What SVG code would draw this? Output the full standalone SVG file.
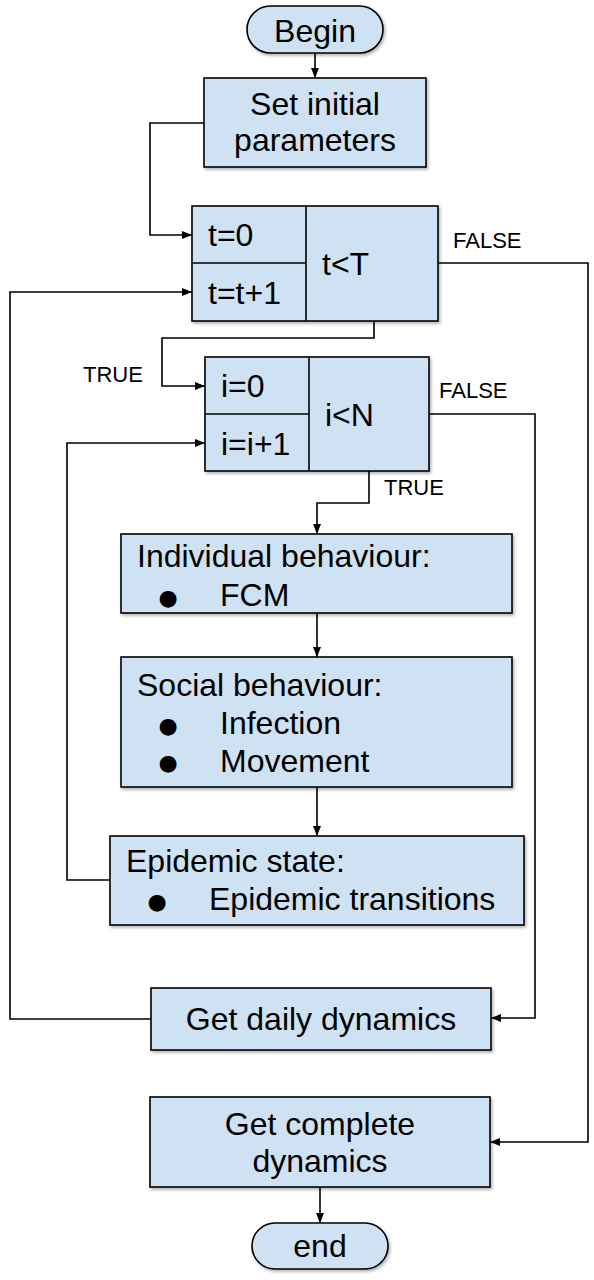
<svg xmlns="http://www.w3.org/2000/svg" width="594" height="1280" viewBox="0 0 594 1280">
<style>
.box{fill:#cfe2f3;stroke:#000;stroke-width:1.6;filter:url(#sh)}
.div{stroke:#000;stroke-width:1.6;fill:none}
.t{font-family:"Liberation Sans",Arial,sans-serif;font-size:32px;fill:#000}
.c{text-anchor:middle}
.lbl{font-family:"Liberation Sans",Arial,sans-serif;font-size:22px;fill:#000}
.bul{font-family:"DejaVu Sans",sans-serif;font-size:22px;fill:#000;text-anchor:middle}
.ln{fill:none;stroke:#000;stroke-width:1.6}
.arr{marker-end:url(#ah)}
</style>
<defs>
<filter id="sh" x="-10%" y="-10%" width="130%" height="140%">
<feDropShadow dx="1.5" dy="2" stdDeviation="1.5" flood-color="#000" flood-opacity="0.3"/>
</filter>
<marker id="ah" markerUnits="userSpaceOnUse" markerWidth="11" markerHeight="9" refX="10" refY="4" orient="auto">
<path d="M0,0 L10,4 L0,8 z" fill="#000"/>
</marker>
</defs>
<rect width="594" height="1280" fill="#fff"/>
<g id="connectors">
<path class="ln arr" d="M315,53 V78"/>
<path class="ln arr" d="M204,123 H150 V235 H192"/>
<path class="ln arr" d="M438,263 H588 V1142 H490"/>
<path class="ln arr" d="M151,1019 H10 V292 H192"/>
<path class="ln arr" d="M374,321 V338 H162 V386 H205"/>
<path class="ln arr" d="M429,414 H535 V1018 H491"/>
<path class="ln arr" d="M369,471 V503 H317 V534"/>
<path class="ln arr" d="M317,613 V657"/>
<path class="ln arr" d="M317,787 V836"/>
<path class="ln arr" d="M110,880 H67 V443 H205"/>
<path class="ln arr" d="M320,1187 V1223"/>
<text class="lbl" x="453" y="248">FALSE</text>
<text class="lbl" x="83" y="382">TRUE</text>
<text class="lbl" x="439" y="398">FALSE</text>
<text class="lbl" x="384" y="495">TRUE</text>
</g>
<g id="begin">
<rect class="box" x="247" y="6" width="136" height="47" rx="23.5"/>
<text class="t c" x="315" y="42">Begin</text>
</g>
<g id="set-params">
<rect class="box" x="204" y="78" width="222" height="89"/>
<text class="t c" x="315" y="115">Set initial</text>
<text class="t c" x="315" y="151">parameters</text>
</g>
<g id="t-loop">
<rect class="box" x="192" y="206" width="246" height="115"/>
<path class="div" d="M306,206 V321 M192,263 H306"/>
<text class="t" x="208" y="246">t=0</text>
<text class="t" x="208" y="304">t=t+1</text>
<text class="t" x="322" y="275">t&lt;T</text>
</g>
<g id="i-loop">
<rect class="box" x="205" y="357" width="224" height="114"/>
<path class="div" d="M309,357 V471 M205,414 H309"/>
<text class="t" x="221" y="397">i=0</text>
<text class="t" x="221" y="455">i=i+1</text>
<text class="t" x="325" y="426">i&lt;N</text>
</g>
<g id="individual">
<rect class="box" x="121" y="534" width="391" height="79"/>
<text class="t" x="137" y="567">Individual behaviour:</text>
<text class="bul" x="168" y="605">●</text>
<text class="t" x="220" y="606">FCM</text>
</g>
<g id="social">
<rect class="box" x="121" y="657" width="391" height="130"/>
<text class="t" x="137" y="696">Social behaviour:</text>
<text class="bul" x="168" y="733">●</text>
<text class="t" x="220" y="734">Infection</text>
<text class="bul" x="168" y="770">●</text>
<text class="t" x="220" y="772">Movement</text>
</g>
<g id="epidemic">
<rect class="box" x="110" y="836" width="414" height="89"/>
<text class="t" x="126" y="872">Epidemic state:</text>
<text class="bul" x="157" y="909">●</text>
<text class="t" x="209" y="910">Epidemic transitions</text>
</g>
<g id="daily">
<rect class="box" x="151" y="988" width="340" height="62"/>
<text class="t c" x="321" y="1030">Get daily dynamics</text>
</g>
<g id="complete">
<rect class="box" x="150" y="1097" width="340" height="90"/>
<text class="t c" x="320" y="1135">Get complete</text>
<text class="t c" x="320" y="1172">dynamics</text>
</g>
<g id="end">
<rect class="box" x="252" y="1223" width="136" height="46" rx="23"/>
<text class="t c" x="320" y="1257">end</text>
</g>
</svg>
